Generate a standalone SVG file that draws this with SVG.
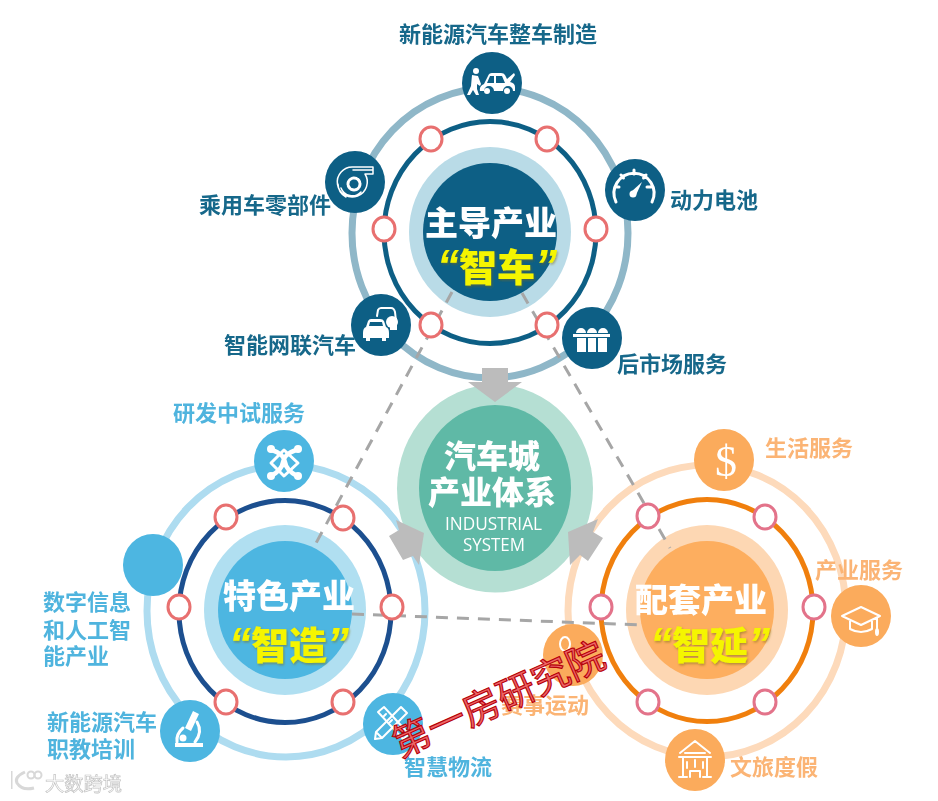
<svg xmlns="http://www.w3.org/2000/svg" width="938" height="801" viewBox="0 0 938 801">
<style>
text{font-family:"Noto Sans CJK SC","Noto Sans",sans-serif;font-weight:700}
.lb{font-size:22px}
.t{fill:#17678a}.b{fill:#4fb4de}.o{fill:#fbb474}
.hd{font-size:33px;fill:#fff;font-weight:900}
.sm{font-size:38px;fill:#f5f500;font-weight:900;filter:url(#gl)}
.q{font-family:"Liberation Sans",sans-serif;font-style:italic;font-weight:700;font-size:44px}
.dot{stroke-width:3;fill:#fff}
.ic{fill:none;stroke:#fff;stroke-width:2;stroke-linecap:round;stroke-linejoin:round}
.w{fill:#fff}
.ring{fill:none}
.dash{fill:none;stroke:#a6a6a6;stroke-width:3;stroke-dasharray:12 9}
</style>
<defs>
<filter id="soft" x="0" y="0" width="100%" height="100%"><feGaussianBlur stdDeviation="0.45"/></filter>
<filter id="gl" x="-10%" y="-20%" width="120%" height="140%"><feDropShadow dx="1" dy="1.500" stdDeviation="1.200" flood-color="#7a6a10" flood-opacity=".55"/></filter>
<ellipse id="d" rx="11" ry="12"/>
</defs>
<rect width="938" height="801" fill="#fff"/>
<g filter="url(#soft)">
<g id="cluster-top-rings">
<ellipse class="ring" cx="490" cy="233" rx="138" ry="145" stroke="#8fb7c8" stroke-width="7"/>
<ellipse class="ring" cx="490" cy="232.500" rx="106" ry="111" stroke="#0e5f85" stroke-width="5"/>
<ellipse cx="490" cy="232" rx="81" ry="85" fill="#b9dbe7"/>
<ellipse cx="490" cy="232" rx="67" ry="69" fill="#0e5f85"/>
</g>
<g id="cluster-left-rings">
<ellipse class="ring" cx="286" cy="611" rx="139" ry="146" stroke="#aedcf0" stroke-width="7"/>
<ellipse class="ring" cx="285" cy="611.500" rx="106" ry="111" stroke="#1c4f8f" stroke-width="5"/>
<ellipse cx="285" cy="610" rx="81" ry="85" fill="#b0dff1"/>
<ellipse cx="285" cy="610" rx="67" ry="69" fill="#4db6e1"/>
</g>
<g id="cluster-right-rings">
<ellipse class="ring" cx="707" cy="611" rx="139" ry="146" stroke="#fddabb" stroke-width="7"/>
<ellipse class="ring" cx="707" cy="610.500" rx="106" ry="111" stroke="#f07f0a" stroke-width="5"/>
<ellipse cx="707" cy="610" rx="81" ry="85" fill="#fdd7b3"/>
<ellipse cx="707" cy="610" rx="67" ry="69" fill="#fdae5e"/>
</g>
<g id="connectors">
<path class="dash" d="M452 292L315 545"/>
<path class="dash" d="M522 293L670 548"/>
<path class="dash" d="M352 614L642 625"/>
</g>
<g id="node-center">
<ellipse cx="495" cy="488.500" rx="98" ry="104" fill="#b5dfd3"/>
<ellipse cx="495" cy="488" rx="76" ry="83" fill="#5fb9a6"/>
<text class="hd" style="font-size:32px"><tspan x="444" y="468">汽车城</tspan><tspan x="428" y="504">产业体系</tspan></text>
<text fill="#fff" font-size="18" style="font-family:'Open Sans',sans-serif;font-weight:400"><tspan x="445" y="530" textLength="97" lengthAdjust="spacingAndGlyphs">INDUSTRIAL</tspan><tspan x="463" y="551" textLength="62" lengthAdjust="spacingAndGlyphs">SYSTEM</tspan></text>
</g>
<g id="arrows" fill="#bcbcbc">
<path d="M482 368H508V382H522L495 402L468 382H482Z"/>
<path d="M396 520L424 533L419 565L413 556L403 560L389 536L399 530Z"/>
<path d="M568 532L598 519L593 532L603 538L588 561L580 555L570 565Z"/>
</g>
<g id="node-top-main">
<text class="hd" x="425" y="235">主导产业</text>
<text class="sm" x="437" y="281"><tspan class="q">“</tspan>智车<tspan class="q">”</tspan></text>
<g stroke="#e8706f" class="dots">
<use href="#d" class="dot" x="431" y="139"/><use href="#d" class="dot" x="547" y="139"/>
<use href="#d" class="dot" x="384" y="229"/><use href="#d" class="dot" x="596" y="229"/>
<use href="#d" class="dot" x="431" y="325"/><use href="#d" class="dot" x="547" y="325"/>
</g>
</g>
<g id="node-zhengche">
<ellipse cx="492" cy="83" rx="30" ry="31" fill="#0e5f85"/>
<path class="w" fill-rule="evenodd" d="M480 91q-1-5 4-7l4-8q1-3 4-3h9q3 0 4 2l2 4 7-6 1 2-5 7q5 1 5 5v4h-2a5 5 0 0 0-10 0h-9a5 5 0 0 0-10 0zM490 76l-3 7h7v-7zM496 76v7h9l-3-7z"/>
<circle class="w" cx="487" cy="91" r="3"/><circle class="w" cx="507" cy="91" r="3"/>
<circle class="w" cx="476" cy="71" r="3"/><path class="w" d="M472 75l6 1 3 8-1 2-3-2v5l2 6h-3l-3-5-3 5h-3l4-9z"/>
<text class="lb t" x="399" y="42">新能源汽车整车制造</text>
</g>
<g id="node-dianchi">
<ellipse cx="635" cy="190" rx="30" ry="31" fill="#0e5f85"/>
<path class="ic" style="stroke-width:3" d="M616 202a20 20 0 1 1 36 0M634 170v4M621 175l2.500 3M646 175l-2.500 3M615 187h4M651 187h-4"/>
<path class="w" d="M642 182l-6 13-5-3z"/><circle class="w" cx="633" cy="194" r="3.500"/>
<text class="lb t" x="670" y="208">动力电池</text>
</g>
<g id="node-lingbujian">
<ellipse cx="355" cy="182" rx="30" ry="31" fill="#0e5f85"/>
<path class="ic" style="stroke-width:1.500" d="M373 167v7h-8a15 15 0 1 1-12-7zM373 170h-20M341 188a12 12 0 0 0 20 4M338 184a15 15 0 0 0 8 13"/>
<circle class="ic" style="stroke-width:3;stroke-dasharray:3 1.500" cx="354" cy="184" r="6"/>
<text class="lb t" x="199" y="213">乘用车零部件</text>
</g>
<g id="node-wanglian">
<ellipse cx="381" cy="325" rx="30" ry="31" fill="#0e5f85"/>
<path class="ic" d="M377 316l1-6q1-2 3-2h10q3 0 4 4l1 9"/>
<circle class="w" cx="392" cy="322" r="6"/><path class="w" d="M390 318h7v12h-7z"/>
<path class="w" fill-rule="evenodd" d="M363 333q0-5 3-6l2-6q1-2 3-2h9q3 0 4 2l2 6q3 1 3 6v5h-3v3h-4v-3h-12v3h-4v-3h-3zM370 322l-1 4h14l-1-4z"/>
<text class="lb t" x="224" y="353">智能网联汽车</text>
</g>
<g id="node-houshichang">
<ellipse cx="592" cy="338" rx="30" ry="31" fill="#0e5f85"/>
<path class="w" d="M576 333a5 5 0 0 1 10 0zM587 333a5 5 0 0 1 10 0zM598 333a5 5 0 0 1 10 0zM573 334h37v3h-37zM577 338h9v14h-9zM588 338h8v14h-8zM598 338h9v14h-9z"/>
<text class="lb t" x="617" y="372">后市场服务</text>
</g>
<g id="node-left-main">
<text class="hd" x="223" y="608">特色产业</text>
<text class="sm" x="229" y="659"><tspan class="q">“</tspan>智造<tspan class="q">”</tspan></text>
<g stroke="#e8706f">
<use href="#d" class="dot" x="226" y="517"/><use href="#d" class="dot" x="343" y="518"/>
<use href="#d" class="dot" x="179" y="607"/><use href="#d" class="dot" x="392" y="607"/>
<use href="#d" class="dot" x="226" y="702"/><use href="#d" class="dot" x="343" y="702"/>
</g>
</g>
<g id="node-yanfa">
<ellipse cx="284" cy="461" rx="30" ry="31" fill="#4db6e1"/>
<g class="ic" style="stroke-width:4.500"><path d="M272 450q12 4 13 12t12 14M296 450q-12 4-13 12t-12 14"/><path d="M271 463l13-13 14 13-14 13z" style="stroke-width:3"/></g>
<circle class="w" cx="271" cy="449" r="4"/><circle class="w" cx="298" cy="449" r="4"/><circle class="w" cx="271" cy="476" r="4"/><circle class="w" cx="298" cy="476" r="4"/>
<text class="lb b" x="173" y="421">研发中试服务</text>
</g>
<g id="node-shuzi">
<ellipse cx="153" cy="565" rx="30" ry="31" fill="#4db6e1"/>
<text class="lb b"><tspan x="43" y="610">数字信息</tspan><tspan x="43" y="638">和人工智</tspan><tspan x="43" y="664">能产业</tspan></text>
</g>
<g id="node-zhijiao">
<ellipse cx="190" cy="731" rx="30" ry="31" fill="#4db6e1"/>
<path class="w" d="M175 743h28v4h-28zM193 711l6 3-8 17-6-3z"/>
<path class="ic" style="stroke-width:3" d="M197 722q6 10-2 20M183 728q-7 6-6 14"/><circle class="w" cx="183" cy="738" r="3.500"/>
<text class="lb b"><tspan x="47" y="730">新能源汽车</tspan><tspan x="47" y="757">职教培训</tspan></text>
</g>
<g id="node-wuliu">
<ellipse cx="393" cy="724" rx="30" ry="31" fill="#4db6e1"/>
<g class="ic"><path d="M375 739l1-7 25-25 6 6-25 25zM376 732l6 6"/><path d="M378 712l6-5 25 27-6 5zM386 714l-2 2M392 720l-2 2M398 727l-2 2"/></g>
<text class="lb b" x="404" y="775">智慧物流</text>
</g>
<g id="node-right-main">
<text class="hd" x="635" y="612">配套产业</text>
<text class="sm" x="650" y="659"><tspan class="q">“</tspan>智延<tspan class="q">”</tspan></text>
<g stroke="#e3738a">
<use href="#d" class="dot" x="648" y="516"/><use href="#d" class="dot" x="765" y="517"/>
<use href="#d" class="dot" x="601" y="607"/><use href="#d" class="dot" x="814" y="607"/>
<use href="#d" class="dot" x="648" y="702"/><use href="#d" class="dot" x="765" y="702"/>
</g>
</g>
<g id="node-shenghuo">
<ellipse cx="724" cy="460" rx="30" ry="31" fill="#fbab5c"/>
<text x="726" y="476" text-anchor="middle" fill="#fff" font-size="44" style="font-family:'Liberation Serif',serif;font-weight:400">$</text>
<text class="lb o" x="765" y="456">生活服务</text>
</g>
<g id="node-chanye">
<ellipse cx="861" cy="616" rx="30" ry="31" fill="#fbab5c"/>
<g class="ic"><path d="M842 616l19-9 19 9-19 9zM850 621v8q11 6 22 0v-8M877 618v10"/></g><ellipse class="w" cx="877" cy="632" rx="2" ry="4"/>
<text class="lb o" x="815" y="578">产业服务</text>
</g>
<g id="node-wenlv">
<ellipse cx="695" cy="760" rx="30" ry="31" fill="#fbab5c"/>
<g class="ic"><path d="M680 753l15-12 15 12M685 753h20M679 757h32M683 757v20M707 757v20M679 777h8M703 777h8M687 762v6M695 760v7M703 762v6M690 777v-6h10v6"/></g>
<text class="lb o" x="730" y="775">文旅度假</text>
</g>
<g id="node-saishi">
<ellipse cx="573" cy="655" rx="30" ry="31" fill="#fbab5c"/>
<ellipse cx="565" cy="644" rx="5" ry="7" fill="none" stroke="#fff" stroke-width="2"/>
<text class="lb o" x="501" y="713">赛事运动</text>
</g>
<g id="logo-mark">
<g fill="none" stroke="#d8d8d8" stroke-width="3"><path d="M11 771v18M25 772q-11 5-8 11q5 8 17 5"/></g>
<g fill="none" stroke="#d8d8d8" stroke-width="2"><circle cx="31" cy="775" r="3.500"/><circle cx="38" cy="775" r="3.500"/></g>
<text x="45" y="791" font-size="19.300" style="fill:#fff;stroke:#c4c4c4;stroke-width:.7;font-weight:400">大数跨境</text>
</g>
</g>
<text id="stamp" x="400" y="758" transform="rotate(-24 400 758)" font-size="38" style="font-weight:400;fill:#e66;stroke:#b5000a;stroke-width:1.100">第一房研究院</text>
</svg>
